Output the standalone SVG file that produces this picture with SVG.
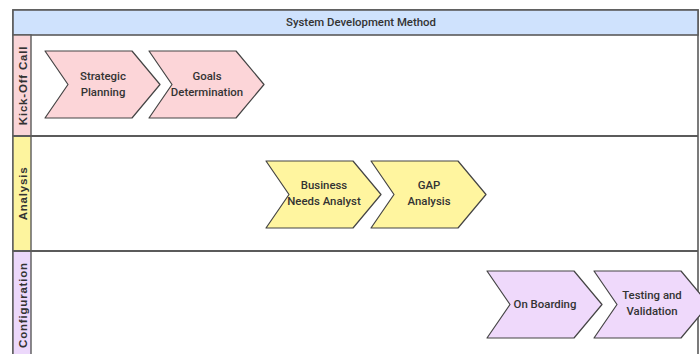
<svg xmlns="http://www.w3.org/2000/svg" width="700" height="354" viewBox="0 0 700 354">
<style>
.frame{fill:#ffffff;stroke:#5b5b5b;stroke-width:1.6}
.sep{stroke:#5b5b5b;stroke-width:2;fill:none}
.lane{stroke:#5b5b5b;stroke-width:1.4}
.chev{stroke:#444;stroke-width:1.2;stroke-linejoin:round}
.t{font-family:Roboto,"Liberation Sans",sans-serif;font-size:11.4px;font-weight:500;fill:#333;text-anchor:middle}
.lt{font-family:"Liberation Sans",Arial,sans-serif;font-size:11.5px;font-weight:bold;fill:#333;text-anchor:middle;letter-spacing:0.8px}
</style>
<defs>
<path id="chev" d="M0,0 H87 L115,33.5 L87,67 H0 L23,33.5 Z"/>
</defs>
<rect width="700" height="354" fill="#ffffff"/>
<g id="pool">
<rect class="frame" x="13" y="10" width="685" height="360"/>
<rect x="13" y="10" width="685" height="25" fill="#cfe2fd" stroke="#5b5b5b" stroke-width="1.6"/>
<text class="t" x="361" y="26">System Development Method</text>
</g>
<g id="lane-kickoff">
<rect class="lane" x="13" y="35" width="18" height="101" fill="#fad5d8"/>
<text class="lt" transform="translate(26.5,85.5) rotate(-90)">Kick-Off Call</text>
</g>
<g id="lane-analysis">
<rect class="lane" x="13" y="136" width="18" height="115" fill="#fdf49e"/>
<text class="lt" transform="translate(26.5,193.5) rotate(-90)">Analysis</text>
</g>
<g id="lane-configuration">
<rect class="lane" x="13" y="251" width="18" height="110" fill="#ecd8fb"/>
<text class="lt" transform="translate(26.5,305) rotate(-90)">Configuration</text>
</g>
<g id="separators">
<line class="sep" x1="13" y1="136" x2="698" y2="136"/>
<line class="sep" x1="13" y1="251" x2="698" y2="251"/>
</g>
<g id="strategic-planning">
<use href="#chev" x="45" y="51" class="chev" fill="#fcd5d8"/>
<text class="t" x="103" y="80">Strategic</text>
<text class="t" x="103" y="96">Planning</text>
</g>
<g id="goals-determination">
<use href="#chev" x="149" y="51" class="chev" fill="#fcd5d8"/>
<text class="t" x="207" y="80">Goals</text>
<text class="t" x="207" y="96">Determination</text>
</g>
<g id="business-needs-analyst">
<use href="#chev" x="266" y="161" class="chev" fill="#fff59f"/>
<text class="t" x="324" y="189">Business</text>
<text class="t" x="324" y="205">Needs Analyst</text>
</g>
<g id="gap-analysis">
<use href="#chev" x="371" y="161" class="chev" fill="#fff59f"/>
<text class="t" x="429" y="189">GAP</text>
<text class="t" x="429" y="205">Analysis</text>
</g>
<g id="on-boarding">
<use href="#chev" x="487" y="271" class="chev" fill="#efd9fb"/>
<text class="t" x="545" y="308">On Boarding</text>
</g>
<g id="testing-validation">
<use href="#chev" x="594" y="271" class="chev" fill="#efd9fb"/>
<text class="t" x="652" y="299">Testing and</text>
<text class="t" x="652" y="315">Validation</text>
</g>
<g id="connectors"></g>
</svg>
